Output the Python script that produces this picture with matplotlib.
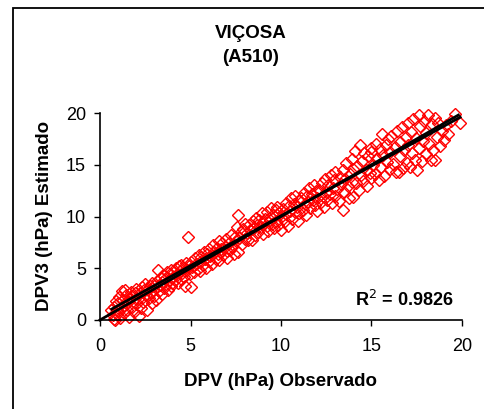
import matplotlib
matplotlib.use("Agg")
import matplotlib.pyplot as plt
from matplotlib.patches import Rectangle

plt.rcParams['font.family'] = ['Liberation Sans', 'DejaVu Sans']

title_lines = ["VIÇOSA", "(A510)"]
x_label = "DPV (hPa) Observado"
y_label = "DPV3 (hPa) Estimado"
r2_value = 0.9826
x_ticks = [0, 5, 10, 15, 20]
y_ticks = [0, 5, 10, 15, 20]

pairs = [
    (0.6,1.0),(0.7,0.5),(0.75,0.1),(0.8,1.3),(0.85,0.0),(0.9,1.8),(0.95,0.6),(1.0,1.6),(1.0,0.9),(1.05,2.2),
    (1.1,0.2),(1.15,1.2),(1.2,2.8),(1.25,1.9),(1.3,0.7),(1.35,1.4),(1.4,2.9),(1.45,2.4),(1.5,1.0),(1.55,1.7),
    (1.6,0.3),(1.65,2.1),(1.7,2.7),(1.75,1.3),(1.8,2.3),(1.85,1.8),(1.9,0.8),(1.95,2.6),(2.0,1.5),(2.0,3.0),
    (2.1,2.0),(2.15,0.4),(2.2,2.6),(2.25,1.2),(2.3,3.2),(2.35,2.2),(2.4,1.7),(2.45,2.9),(2.5,3.5),(2.55,2.4),
    (2.6,1.0),(2.65,3.0),(2.7,2.1),(2.75,3.3),(2.8,2.7),(2.85,1.6),(2.9,3.6),(2.95,2.9),(3.0,2.3),(3.0,3.3),
    (3.1,1.9),(3.15,3.8),(3.2,4.8),(3.25,2.8),(3.3,3.4),(3.35,4.1),(3.4,2.5),(3.45,3.7),(3.5,4.3),(3.55,3.1),
    (3.6,4.0),(3.65,3.5),(3.7,4.6),(3.75,2.9),(3.8,3.9),(3.85,4.4),(3.9,3.3),(3.95,4.8),(4.0,4.1),(4.0,3.6),
    (4.1,4.6),(4.15,3.9),(4.2,5.0),(4.25,4.3),(4.3,3.6),(4.35,5.2),(4.4,4.7),(4.45,4.0),(4.5,5.3),(4.55,4.5),
    (4.6,5.0),(4.65,4.2),(4.7,3.3),(4.75,5.5),(4.8,4.8),(4.85,8.0),(4.9,5.2),(4.95,4.4),(5.0,5.6),(5.0,3.2),
    (5.1,5.1),(5.2,4.6),(5.25,6.0),(5.3,5.4),(5.4,4.9),(5.45,6.3),(5.5,5.6),(5.55,4.7),(5.6,6.1),(5.7,5.3),
    (5.75,6.6),(5.8,5.9),(5.85,5.0),(5.9,6.4),(6.0,5.7),(6.0,6.9),
    (6.1,6.2),(6.2,5.4),(6.25,7.2),(6.3,6.6),(6.4,5.9),(6.45,7.0),(6.5,6.4),(6.55,7.6),(6.6,5.8),(6.7,6.9),
    (6.75,7.4),(6.8,6.3),(6.9,7.1),(6.95,7.8),(7.0,6.7),(7.0,6.0),
    (7.1,7.4),(7.2,6.8),(7.25,8.2),(7.3,7.1),(7.4,6.4),(7.45,8.0),(7.5,7.6),(7.55,9.0),(7.6,6.6),(7.65,10.1),
    (7.7,7.9),(7.8,8.5),(7.85,7.3),(7.9,8.8),(8.0,7.8),(8.0,9.3),
    (8.1,8.4),(8.2,7.7),(8.25,9.2),(8.3,8.7),(8.4,7.7),(8.45,9.6),(8.5,8.9),(8.55,8.2),(8.6,9.9),(8.7,9.2),
    (8.75,8.5),(8.8,9.7),(8.9,9.0),(8.95,10.3),(9.0,8.3),(9.0,9.5),
    (9.1,9.8),(9.2,9.1),(9.25,10.4),(9.3,8.6),(9.4,9.7),(9.45,10.8),(9.5,9.3),(9.55,10.1),(9.6,8.9),(9.7,10.6),
    (9.7,9.6),(9.8,10.9),(9.85,9.2),(9.9,10.3),(10.0,8.7),(10.0,10.0),
    (10.1,10.7),(10.2,9.6),(10.25,11.3),(10.3,10.2),(10.4,9.1),(10.45,11.0),(10.5,10.5),(10.55,11.8),(10.6,9.8),(10.7,11.2),
    (10.75,10.4),(10.8,12.0),(10.9,10.9),(10.95,9.6),(11.0,11.5),(11.0,10.3),
    (11.1,11.8),(11.2,10.6),(11.25,12.3),(11.3,11.2),(11.4,10.1),(11.45,12.0),(11.5,11.4),(11.55,12.8),(11.6,10.8),(11.7,12.2),
    (11.75,11.6),(11.8,13.0),(11.9,11.1),(11.95,12.5),(12.0,11.8),(12.0,10.5),
    (12.1,12.6),(12.2,11.4),(12.25,13.2),(12.3,12.0),(12.4,10.9),(12.45,13.6),(12.5,12.4),(12.55,11.6),(12.6,13.0),(12.7,12.2),
    (12.75,14.0),(12.8,11.3),(12.9,12.8),(12.95,13.5),(13.0,12.0),(13.0,14.3),
    (13.1,12.7),(13.2,11.5),(13.25,13.8),(13.3,13.1),(13.4,10.6),(13.45,14.5),(13.5,12.4),(13.55,13.6),(13.6,15.2),(13.7,12.9),
    (13.75,11.8),(13.8,14.1),(13.9,13.3),(13.95,15.6),(14.0,11.9),(14.0,14.6),
    (14.1,16.3),(14.15,13.2),(14.2,14.9),(14.3,12.6),(14.35,16.9),(14.4,14.0),(14.5,15.4),(14.55,13.4),(14.6,16.1),(14.7,14.5),
    (14.75,12.9),(14.8,15.8),(14.9,14.2),(14.95,16.6),(15.0,13.7),(15.0,16.2),
    (15.1,15.0),(15.2,14.1),(15.25,17.0),(15.3,15.6),(15.4,13.5),(15.45,16.5),(15.5,14.8),(15.6,18.0),(15.65,15.9),(15.7,13.9),
    (15.8,16.9),(15.85,15.3),(15.9,17.5),(16.0,14.6),(16.0,16.2),
    (16.1,17.8),(16.2,15.1),(16.3,16.7),(16.35,14.3),(16.4,18.3),(16.5,14.3),(16.55,17.2),(16.6,15.8),(16.7,18.6),(16.75,14.7),
    (16.8,16.4),(16.9,17.7),(16.95,15.2),(17.0,19.0),(17.0,16.9),
    (17.1,14.8),(17.2,18.2),(17.25,16.1),(17.3,19.4),(17.4,15.5),(17.45,17.6),(17.5,14.5),(17.6,19.8),(17.65,16.6),(17.7,18.7),
    (17.8,15.4),(17.85,17.3),(17.9,19.2),(18.0,16.0),(18.0,18.1),
    (18.1,19.8),(18.2,17.0),(18.3,15.5),(18.35,18.9),(18.4,16.4),(18.5,19.5),(18.5,15.5),(18.6,17.7),(18.7,19.0),(18.8,16.8),
    (18.9,18.3),(19.0,17.4),(19.1,18.8),
    (19.2,18.0),(19.4,19.2),(19.6,19.9),(19.9,19.0),
]
obs = [p[0] for p in pairs]
est = [p[1] for p in pairs]

fit_slope = 0.963
fit_intercept = 0.43
fit_range = [0.65, 19.9]
identity_range = [0.0, 19.8]

W, H = 484, 409
fig = plt.figure(figsize=(W / 100, H / 100), dpi=100)
ax = fig.add_axes([100 / W, 1 - 320 / H, 362 / W, 207 / H])

ax.plot(obs, est, linestyle='none', marker='D', markersize=6.6,
        markerfacecolor='none', markeredgecolor='#ff0000', markeredgewidth=1.0,
        zorder=2, clip_on=False)
ax.plot(identity_range, identity_range, color='black', lw=2.0, zorder=3, clip_on=False)
ax.plot(fit_range, [fit_slope * v + fit_intercept for v in fit_range], color='black', lw=2.0,
        zorder=3, clip_on=False)

ax.set_xlim(0, 20)
ax.set_ylim(0, 20)
ax.set_xticks(x_ticks)
ax.set_yticks(y_ticks)
ax.set_xticklabels([str(t) for t in x_ticks], fontsize=13)
ax.set_yticklabels([str(t) for t in y_ticks], fontsize=13)
ax.tick_params(axis='both', direction='out', length=4, width=1, color='black')
ax.tick_params(axis='x', pad=9)
ax.tick_params(axis='y', pad=6)
for s in ['top', 'right']:
    ax.spines[s].set_visible(False)
for s in ['left', 'bottom']:
    ax.spines[s].set_linewidth(1.2)
    ax.spines[s].set_color('black')
ax.set_facecolor('none')

ax.text(14.1, 1.9, "R$^{2}$ = %.4f" % r2_value, fontsize=13, fontweight='bold', va='center', ha='left')

fig.text(251 / W, 1 - 33 / H, title_lines[0], fontsize=13.5, fontweight='bold', ha='center', va='center')
fig.text(251 / W, 1 - 58 / H, title_lines[1], fontsize=13.5, fontweight='bold', ha='center', va='center')
fig.text(281 / W, 1 - 382 / H, x_label, fontsize=13.5, fontweight='bold', ha='center', va='center')
fig.text(45 / W, 1 - 216 / H, y_label, fontsize=13.5, fontweight='bold', ha='center', va='center', rotation=90)

fig.patches.append(Rectangle((13 / W, -0.1), 2.0, (1 - 8 / H) + 0.1, transform=fig.transFigure,
                             fill=False, edgecolor='black', linewidth=1.3))

fig.savefig("out.png", dpi=100)
